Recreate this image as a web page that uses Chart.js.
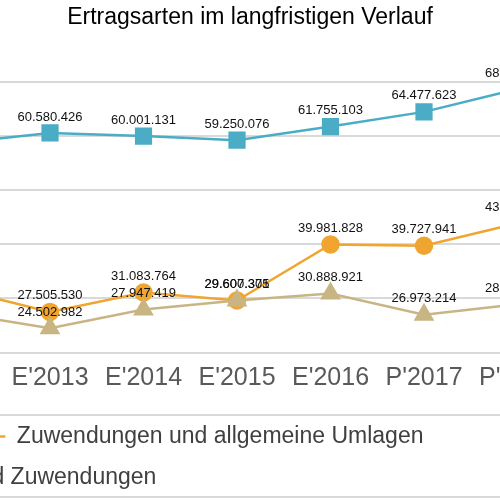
<!DOCTYPE html>
<html>
<head>
<meta charset="utf-8">
<script src="https://cdn.jsdelivr.net/npm/chart.js@4.4.1/dist/chart.umd.min.js"></script>
<style>
  html, body { margin: 0; padding: 0; width: 500px; height: 500px; overflow: hidden; background: #fff; }
  /* the chart is wider than the window, only the middle part is shown */
  #chart { position: absolute; top: 0; left: -412px; }
</style>
</head>
<body>
<canvas id="chart" width="1324" height="500"></canvas>
<script>
'use strict';

// ******** DATA **************
let years = ["E'2012", "E'2013", "E'2014", "E'2015", "E'2016", "P'2017", "P'2018"];
let seriesNames = [
  'Steuern und ähnliche Abgaben',
  'Zuwendungen und allgemeine Umlagen',
  'Erträge aus Transferleistungen und Zuwendungen'
];
let steuern = [58730000, 60580426, 60001131, 59250076, 61755103, 64477623, 68700000];
let zuwendungen = [31800000, 27505530, 31083764, 29600305, 39981828, 39727941, 43900000];
let transfer = [27300000, 24502982, 27947419, 29607371, 30888921, 26973214, 28900000];
let yMin = 20000000;
let yMax = 70000000;
let yStep = 10000000;

// ******** STYLE **************
let fontFamily = '"Liberation Sans", Arial, sans-serif';
let teal = '#4BACC6';
let orange = '#F0A530';
let tan = '#C9B584';

function formatNumber(value){
  return Math.round(value).toString().replace(/\B(?=(\d{3})+(?!\d))/g, '.');
}

// ******** PLUGINS **************
// numbers above every point
let valueLabels = {
  id: 'valueLabels',
  afterDatasetsDraw(chart){
    let ctx = chart.ctx;
    ctx.save();
    ctx.font = '13px ' + fontFamily;
    ctx.fillStyle = '#111111';
    ctx.textAlign = 'center';
    ctx.textBaseline = 'middle';
    chart.data.datasets.forEach((dataset, i) => {
      chart.getDatasetMeta(i).data.forEach((point, j) => {
        ctx.fillText(formatNumber(dataset.data[j]), point.x, point.y - 16);
      });
    });
    ctx.restore();
  }
};

// thin frame round the legend
let legendFrame = {
  id: 'legendFrame',
  afterDraw(chart){
    let legend = chart.legend;
    let ctx = chart.ctx;
    ctx.save();
    ctx.strokeStyle = '#D9D9D9';
    ctx.lineWidth = 2;
    ctx.strokeRect(legend.left + 1, legend.top + 8, legend.width - 2, legend.height - 10);
    ctx.restore();
  }
};

// ******** CHART **************
let chartCanvas = document.getElementById('chart');

new Chart(chartCanvas, {
  type: 'line',
  data: {
    labels: years,
    datasets: [
      {
        label: seriesNames[0],
        data: steuern,
        borderColor: teal,
        backgroundColor: teal,
        borderWidth: 2.5,
        pointStyle: 'rect',
        pointRadius: 10.4,
        order: 2
      },
      {
        label: seriesNames[1],
        data: zuwendungen,
        borderColor: orange,
        backgroundColor: orange,
        borderWidth: 2.5,
        pointStyle: 'circle',
        pointRadius: 8,
        order: 1
      },
      {
        label: seriesNames[2],
        data: transfer,
        borderColor: tan,
        backgroundColor: tan,
        borderWidth: 2.5,
        pointStyle: 'triangle',
        pointRadius: 9.5,
        order: 0
      }
    ]
  },
  options: {
    responsive: false,
    animation: false,
    layout: { padding: { top: 0, left: 0, right: 0, bottom: 1 } },
    plugins: {
      title: {
        display: true,
        text: 'Ertragsarten im langfristigen Verlauf',
        color: '#000000',
        font: { family: fontFamily, size: 23, weight: 'normal' },
        padding: { top: 4, bottom: 50.4 }
      },
      legend: {
        position: 'bottom',
        align: 'start',
        labels: {
          boxWidth: 27,
          boxHeight: 0,
          padding: 18,
          color: '#404040',
          font: { family: fontFamily, size: 23 },
          sort: (a, b) => a.datasetIndex - b.datasetIndex
        }
      },
      tooltip: { enabled: false }
    },
    scales: {
      x: {
        grid: { display: false, drawTicks: false },
        border: { display: false },
        ticks: { color: '#595959', font: { family: fontFamily, size: 25 }, padding: 11, maxRotation: 0, autoSkip: false },
        afterFit: (scale) => { scale.height = 54.5; }
      },
      y: {
        min: yMin,
        max: yMax,
        ticks: { stepSize: yStep, display: false },
        grid: { color: '#D9D9D9', lineWidth: 2, drawTicks: false },
        border: { display: false },
        afterFit: (scale) => { scale.width = 368.5; }
      },
      y2: {
        position: 'right',
        display: true,
        min: yMin,
        max: yMax,
        grid: { display: false },
        ticks: { display: false },
        border: { display: false },
        afterFit: (scale) => { scale.width = 394.5; }
      }
    }
  },
  plugins: [valueLabels, legendFrame]
});
</script>
</body>
</html>
